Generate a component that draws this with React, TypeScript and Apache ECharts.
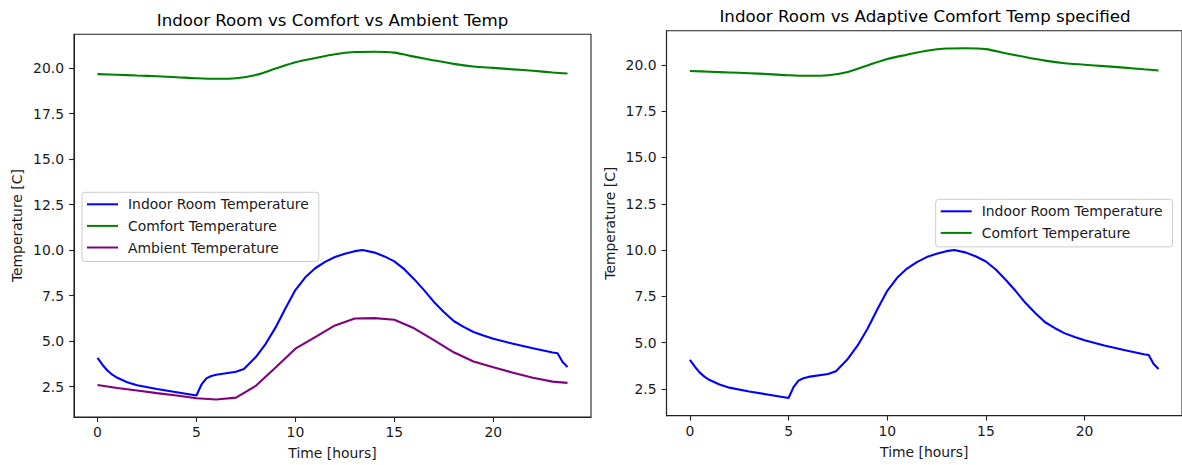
import React, { useEffect, useRef } from "react";
import * as echarts from "echarts";

// Hourly samples for comfort and ambient temperature
const hours = [0, 1, 2, 3, 4, 5, 6, 7, 8, 9, 10, 11, 12, 13, 14, 15, 16, 17, 18, 19, 20, 21, 22, 23, 23.75];
const comfortTemp = [
  19.67, 19.63, 19.59, 19.55, 19.5, 19.44, 19.41, 19.44, 19.62, 19.97, 20.32, 20.55, 20.76,
  20.88, 20.9, 20.85, 20.63, 20.42, 20.23, 20.09, 20.01, 19.93, 19.85, 19.76, 19.7,
];
const ambientTemp = [
  2.58, 2.42, 2.28, 2.14, 2.01, 1.86, 1.79, 1.89, 2.54, 3.55, 4.58, 5.22, 5.86, 6.24, 6.26,
  6.17, 5.7, 5.05, 4.38, 3.88, 3.56, 3.26, 2.98, 2.77, 2.7,
];

// Indoor room temperature, sampled more finely where it changes quickly
const indoorHours = [
  0, 0.25, 0.5, 0.75, 1, 1.5, 2, 3, 4, 5, 5.25, 5.5, 5.75, 6, 7, 7.4, 8, 8.5, 9, 9.5, 10, 10.5,
  11, 11.5, 12, 12.5, 13, 13.4, 14, 14.5, 15, 15.5, 16, 16.5, 17, 17.5, 18, 18.5, 19, 19.5, 20,
  21, 22, 23, 23.25, 23.5, 23.75,
];
const indoorTemp = [
  4.07, 3.7, 3.38, 3.15, 2.98, 2.74, 2.57, 2.36, 2.19, 2.01, 2.6, 2.95, 3.08, 3.15, 3.31, 3.46,
  4.12, 4.85, 5.75, 6.8, 7.8, 8.5, 9.0, 9.35, 9.62, 9.8, 9.94, 10.0, 9.86, 9.65, 9.38, 8.95, 8.4,
  7.8, 7.15, 6.6, 6.1, 5.78, 5.5, 5.3, 5.13, 4.85, 4.6, 4.37, 4.33, 3.85, 3.58,
];

const xTicks = [0, 5, 10, 15, 20];
const yTicks = [2.5, 5, 7.5, 10, 12.5, 15, 17.5, 20];

const titles = ["Indoor Room vs Comfort vs Ambient Temp", "Indoor Room vs Adaptive Comfort Temp specified"];
const names = ["Indoor Room Temperature", "Comfort Temperature", "Ambient Temperature"];
const colors = ["#0000ff", "#008000", "#800080"];

const FONT = "DejaVu Sans";
const INK = "#1a1a1a";

const pairs = (xs: number[], ys: number[]) => xs.map((x, i) => [x, ys[i]]);

function xAxisFor(gridIndex: number) {
  return {
    type: "value",
    gridIndex,
    min: -1.1875,
    max: 24.9375,
    name: "Time [hours]",
    nameLocation: "middle",
    nameGap: 29,
    nameTextStyle: { fontFamily: FONT, fontSize: 13.9, color: INK },
    axisLine: { show: true, onZero: false, lineStyle: { color: "#222", width: 1.1 } },
    axisTick: { show: true, length: 4.9, customValues: xTicks, lineStyle: { color: "#222", width: 1.1 } },
    axisLabel: {
      customValues: xTicks,
      margin: 8,
      fontFamily: FONT,
      fontSize: 13.9,
      color: INK,
    },
    splitLine: { show: false },
  };
}

function yAxisFor(gridIndex: number, min: number, max: number) {
  return {
    type: "value",
    gridIndex,
    min,
    max,
    name: "Temperature [C]",
    nameLocation: "middle",
    nameGap: 50,
    nameRotate: 90,
    nameTextStyle: { fontFamily: FONT, fontSize: 13.9, color: INK },
    axisLine: { show: true, onZero: false, lineStyle: { color: "#222", width: 1.1 } },
    axisTick: { show: true, length: 4.9, customValues: yTicks, lineStyle: { color: "#222", width: 1.1 } },
    axisLabel: {
      customValues: yTicks,
      margin: 10,
      fontFamily: FONT,
      fontSize: 13.9,
      color: INK,
      formatter: (v: number) => v.toFixed(1),
    },
    splitLine: { show: false },
  };
}

function lineSeries(name: string, color: string, data: number[][], axisIndex: number, smooth: number | false) {
  return {
    type: "line",
    name,
    color,
    xAxisIndex: axisIndex,
    yAxisIndex: axisIndex,
    data,
    showSymbol: false,
    symbol: "none",
    smooth,
    lineStyle: { color, width: 2.1 },
  };
}

function legendFor(left: number, top: number, data: string[]) {
  return {
    orient: "vertical",
    left,
    top,
    data,
    icon: "rect",
    itemWidth: 31,
    itemHeight: 2,
    itemGap: 5.6,
    selectedMode: false,
    padding: [4, 10, 6, 5],
    backgroundColor: "rgba(255,255,255,0.8)",
    borderColor: "#cccccc",
    borderWidth: 1,
    borderRadius: 3,
    textStyle: {
      fontFamily: FONT,
      fontSize: 13.9,
      color: INK,
      lineHeight: 16,
      padding: [0, 0, 0, 5],
    },
  };
}

export default function App() {
  const ref = useRef<HTMLDivElement>(null);

  useEffect(() => {
    if (!ref.current) return;
    const chart = echarts.init(ref.current, null, { renderer: "svg" });
    chart.setOption({
      animation: false,
      backgroundColor: "#ffffff",
      textStyle: { fontFamily: FONT },
      grid: [
        { left: 74, top: 34.3, width: 517, height: 385.7, show: true, borderColor: "#222", borderWidth: 1.1, containLabel: false },
        { left: 666.5, top: 30.7, width: 518, height: 385, show: true, borderColor: "#222", borderWidth: 1.1, containLabel: false },
      ],
      xAxis: [xAxisFor(0), xAxisFor(1)],
      yAxis: [yAxisFor(0, 0.826, 21.856), yAxisFor(1, 1.055, 21.845)],
      legend: [legendFor(82, 192.3, names), legendFor(935.7, 199.3, names.slice(0, 2))],
      graphic: [
        {
          type: "text",
          x: 332.5,
          y: 20,
          style: { text: titles[0], fontFamily: FONT, fontSize: 16.67, fill: "#000", align: "center", verticalAlign: "middle" },
        },
        {
          type: "text",
          x: 925,
          y: 16.7,
          style: { text: titles[1], fontFamily: FONT, fontSize: 16.67, fill: "#000", align: "center", verticalAlign: "middle" },
        },
      ],
      series: [
        lineSeries(names[0], colors[0], pairs(indoorHours, indoorTemp), 0, false),
        lineSeries(names[1], colors[1], pairs(hours, comfortTemp), 0, 0.3),
        lineSeries(names[2], colors[2], pairs(hours, ambientTemp), 0, false),
        lineSeries(names[0], colors[0], pairs(indoorHours, indoorTemp), 1, false),
        lineSeries(names[1], colors[1], pairs(hours, comfortTemp), 1, 0.3),
      ],
    });
    return () => chart.dispose();
  }, []);

  return <div ref={ref} style={{ position: "absolute", left: 0, top: 0, width: 1182, height: 465 }} />;
}
